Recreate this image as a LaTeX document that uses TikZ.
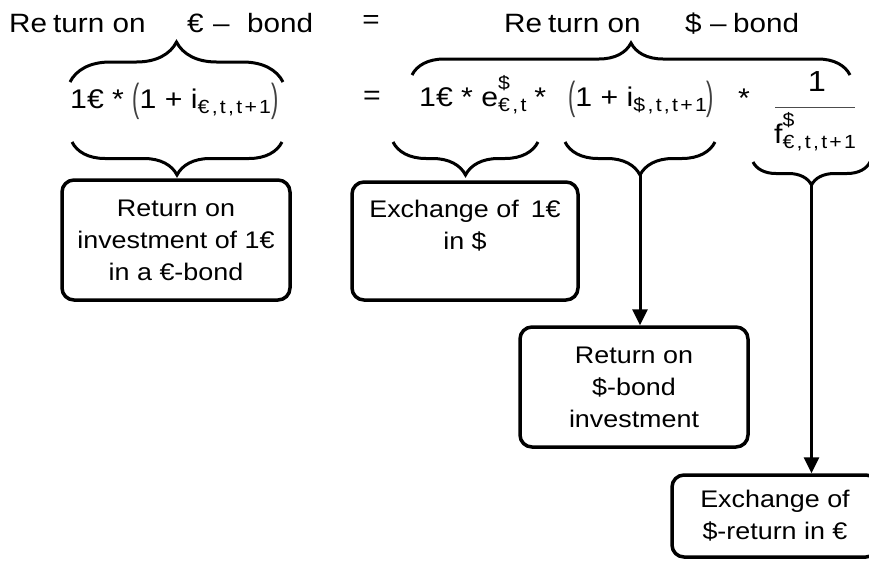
\documentclass[tikz,border=0pt]{standalone}
\usepackage{fontspec}
\setmainfont{Liberation Sans}[FakeStretch=1.12]
\usepackage{graphicx}
\usetikzlibrary{decorations.pathreplacing,arrows.meta}
\newcommand\SmallSet[1]{{\fontsize{19}{19}\selectfont\addfontfeature{LetterSpace=12}#1}}
\newcommand\Sub[1]{\raisebox{-0.2em}{\SmallSet{#1}}}
\newcommand\SupSub[2]{\rlap{\raisebox{0.62em}{\SmallSet{#1}}}\Sub{#2}}
\newcommand\Par[1]{\raisebox{-0.14em}{\color{black!75}\scalebox{0.72}[1.45]{#1}}}
\begin{document}
\begin{tikzpicture}[x=1pt,y=-1pt,
 title/.style={font=\fontsize{26.5}{30}\selectfont, inner sep=0pt},
 formula/.style={font=\fontsize{27}{30}\selectfont, inner sep=0pt},
 brc/.style={decorate, decoration={brace,amplitude=#1}, line width=3pt},
 boxnode/.style={draw, line width=3.5pt, rounded corners=12pt, align=center, font=\fontsize{24}{32}\selectfont, inner sep=0pt},
 arr/.style={line width=3pt, -{Triangle[length=16pt,width=15pt]}}]
\clip (0,0) rectangle (869,560);
% titles
\node[title, anchor=base west] (tl) at (9,32) {\makebox[178pt][l]{Re\hspace{6pt}turn on}\makebox[26pt][l]{€}\makebox[34pt][l]{–}bond};
\node[title] (eq1) at (371,22) {=};
\node[title, anchor=base west] (tr) at (504,32) {\makebox[181pt][l]{Re\hspace{6pt}turn on}\makebox[25pt][l]{\$}\makebox[23pt][l]{–}bond};
% left formula
\node[formula, anchor=base west] (lf) at (70,108) {1€ * \Par{(}1 + i\Sub{€,t,t+1}\Par{)}};
% right formula
\node[formula] (eq2) at (372,98) {=};
\node[formula, anchor=base west] (rf1) at (419,106) {1€ * e\SupSub{\$}{€,t}\hspace{8pt}*};
\node[formula, anchor=base west] (rf2) at (568,106) {\Par{(}1 + i\Sub{\$,t,t+1}\Par{)}};
\node[formula] (star) at (744,98) {*};
\node[formula, font=\fontsize{29}{30}\selectfont] (num) at (817,82) {1};
\node[formula, anchor=base west] (den) at (774,143) {f\SupSub{\$}{€,t,t+1}};
\coordinate (barl) at (775,107);
\coordinate (barr) at (855,107);
\draw[line width=1pt, black!70] (barl) -- (barr);
% braces
\coordinate (b1l) at (70,82);
\coordinate (b1r) at (283,82);
\draw[brc=40pt] (b1l) -- (b1r);
\coordinate (b2l) at (412,75);
\coordinate (b2r) at (850,75);
\draw[brc=32pt] (b2l) -- (b2r);
\coordinate (u1r) at (282,142);
\coordinate (u1l) at (72,142);
\draw[brc=33pt] (u1r) -- (u1l);
\coordinate (u2r) at (538,142);
\coordinate (u2l) at (393,142);
\draw[brc=33pt] (u2r) -- (u2l);
\coordinate (u3r) at (715,142);
\coordinate (u3l) at (565,142);
\draw[brc=33pt] (u3r) -- (u3l);
\coordinate (u4r) at (870,162);
\coordinate (u4l) at (753,162);
\draw[brc=23pt] (u4r) -- (u4l);
% boxes
\node[boxnode, minimum width=228pt, minimum height=120pt] (bx1) at (176,240) {Return on\\investment of 1€\\in a €-bond};
\node[boxnode, minimum width=226pt, minimum height=118pt] (bx2) at (465,241) {Exchange of\enspace 1€\\in \$\\\mbox{}};
\node[boxnode, minimum width=228pt, minimum height=120pt] (bx3) at (634,387) {Return on\\\$-bond\\investment};
\node[boxnode, minimum width=206pt, minimum height=82pt] (bx4) at (775,516) {Exchange of\\\$-return in €};
% arrows
\coordinate (t2) at (640,175);
\coordinate (t3) at (811.5,185);
\draw[arr] (t2) -- (t2 |- bx3.north);
\draw[arr] (t3) -- (t3 |- bx4.north);
\end{tikzpicture}
\end{document}
